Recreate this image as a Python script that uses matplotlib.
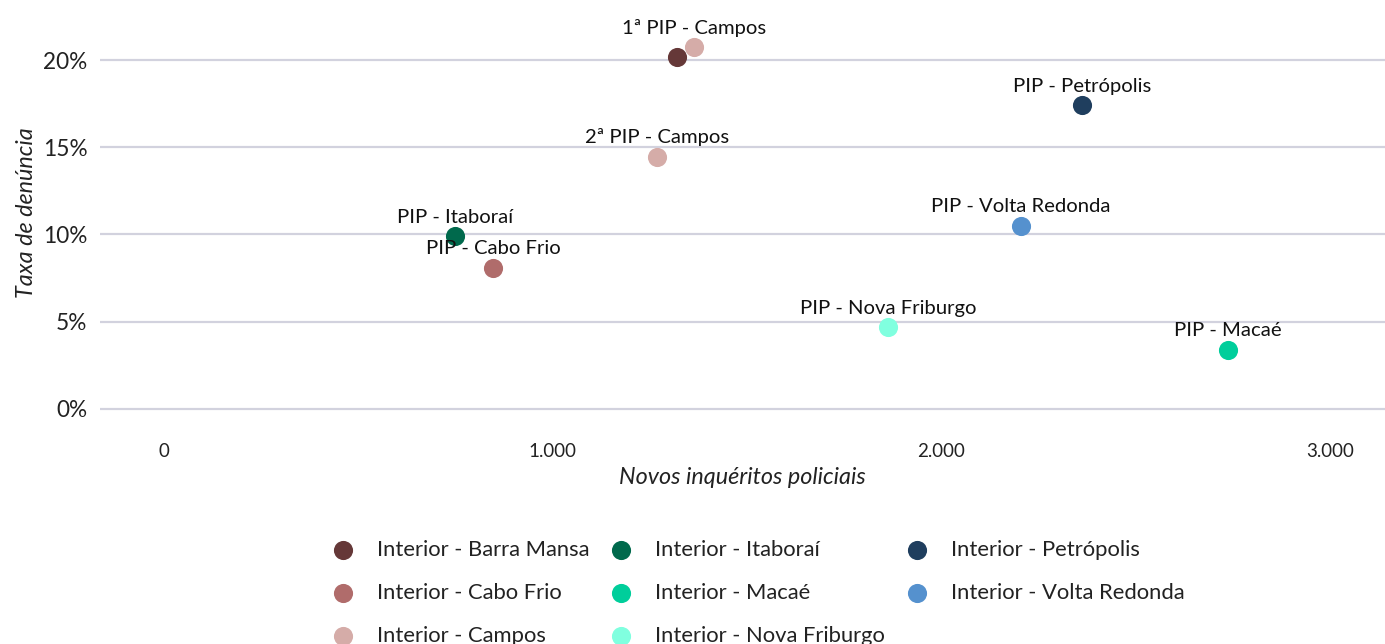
import matplotlib
matplotlib.use("Agg")
import matplotlib.pyplot as plt
from matplotlib.ticker import FuncFormatter

plt.rcParams['font.family'] = ['Lato', 'DejaVu Sans']

# data
groups = ["Interior - Barra Mansa", "Interior - Cabo Frio", "Interior - Campos",
          "Interior - Campos", "Interior - Itaboraí", "Interior - Macaé",
          "Interior - Nova Friburgo", "Interior - Petrópolis", "Interior - Volta Redonda"]
labels = ["", "PIP - Cabo Frio", "1ª PIP - Campos", "2ª PIP - Campos", "PIP - Itaboraí",
          "PIP - Macaé", "PIP - Nova Friburgo", "PIP - Petrópolis", "PIP - Volta Redonda"]
inqueritos = [1320, 846, 1363, 1268, 749, 2737, 1863, 2362, 2205]
taxa = [20.2, 8.1, 20.75, 14.45, 9.9, 3.4, 4.7, 17.4, 10.5]

legend_order = ["Interior - Barra Mansa", "Interior - Cabo Frio", "Interior - Campos",
                "Interior - Itaboraí", "Interior - Macaé", "Interior - Nova Friburgo",
                "Interior - Petrópolis", "Interior - Volta Redonda"]
colors = {"Interior - Barra Mansa": "#653838",
          "Interior - Cabo Frio": "#B06C6B",
          "Interior - Campos": "#D5ACA8",
          "Interior - Itaboraí": "#00694C",
          "Interior - Macaé": "#00CE9B",
          "Interior - Nova Friburgo": "#80FFDF",
          "Interior - Petrópolis": "#1F3E5E",
          "Interior - Volta Redonda": "#5591CE"}

fig = plt.figure(figsize=(13.85, 6.44), dpi=100)
ax = fig.add_axes([100/1385, (644-425)/644, 1285/1385, 425/644])

for g in legend_order:
    xs = [x for x, gg in zip(inqueritos, groups) if gg == g]
    ys = [y for y, gg in zip(taxa, groups) if gg == g]
    ax.scatter(xs, ys, s=190, color=colors[g], label=g, zorder=3, linewidths=0)

for x, y, t in zip(inqueritos, taxa, labels):
    if t:
        ax.annotate(t, (x, y), xytext=(0, 7.5), textcoords="offset points",
                    ha="center", va="bottom", fontsize=14.6, color="#111111", zorder=4)

ax.set_xlim(-165, 3141)
ax.set_ylim(-0.92, 23.44)
ax.set_xticks([0, 1000, 2000, 3000])
ax.set_yticks([0, 5, 10, 15, 20])
ax.xaxis.set_major_formatter(FuncFormatter(lambda v, p: f"{int(v):,}".replace(",", ".")))
ax.yaxis.set_major_formatter(FuncFormatter(lambda v, p: f"{int(v)}%"))
ax.tick_params(axis="x", length=0, labelsize=13.5, labelcolor="#222222", pad=13)
ax.tick_params(axis="y", length=0, labelsize=16.3, labelcolor="#222222", pad=9)
ax.grid(axis="y", color="#D2D2DE", linewidth=1.6)
ax.grid(axis="x", visible=False)
ax.set_axisbelow(True)
for s in ax.spines.values():
    s.set_visible(False)

ax.set_xlabel("Novos inquéritos policiais", fontsize=16.8, style="italic", color="#222222", labelpad=5)
ax.set_ylabel("Taxa de denúncia", fontsize=16.8, style="italic", color="#222222", labelpad=4)

leg = fig.legend(loc="upper left", bbox_to_anchor=(321/1385, 1 - 540/644), ncol=3,
                 frameon=False, fontsize=15.8, handletextpad=0.55, columnspacing=0.45,
                 labelspacing=1.05, borderpad=0, borderaxespad=0, markerscale=1.0,
                 labelcolor="#222222")

fig.savefig("out.png", dpi=100)
